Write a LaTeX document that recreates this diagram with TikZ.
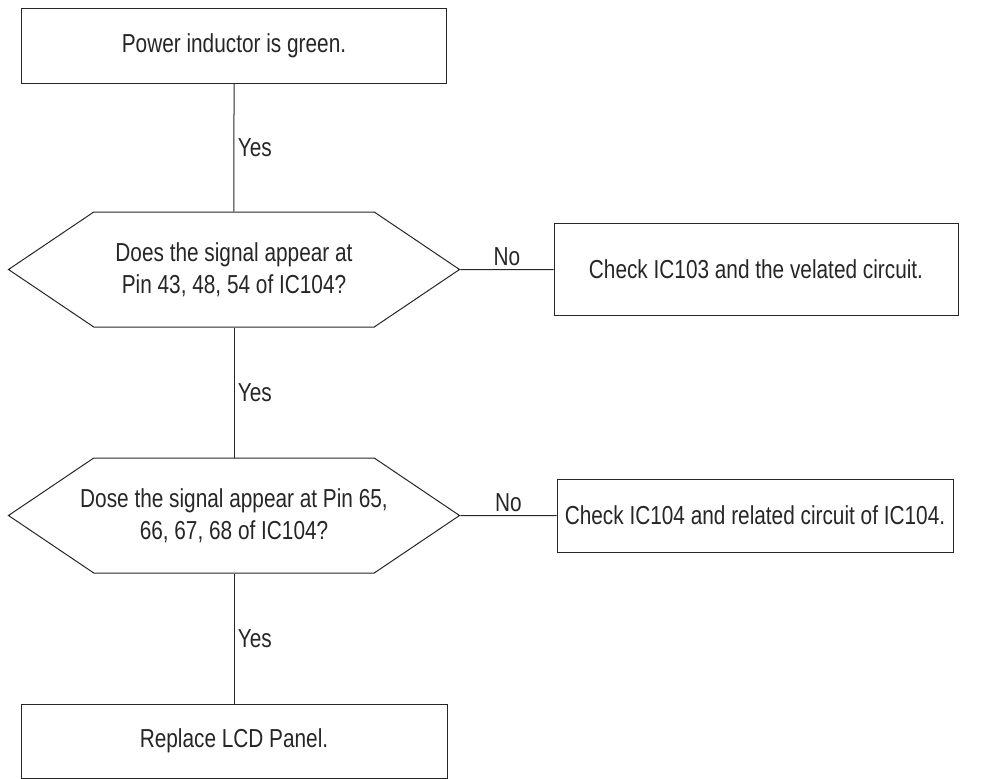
\documentclass[tikz,border=0pt]{standalone}
\usepackage{fontspec}
\setmainfont{Liberation Sans}[FakeStretch=0.8]
\usetikzlibrary{shapes.symbols}

\begin{document}
\begin{tikzpicture}[x=1pt, y=-1pt, auto, line width=1pt,
font=\fontsize{26}{32}\selectfont,
box_style/.style={rectangle, draw=black!85, text=black!85, inner sep=0pt},
hex_style/.style={signal, signal to=west and east, signal pointer angle=68,
  draw=black!85, text=black!85, inner sep=0pt, align=center,
  minimum width=451pt, minimum height=115pt},
edge_style/.style={draw=black!85, line width=1pt, text=black!85}]
\useasboundingbox (0,0) rectangle (1002,779);

\node[box_style, minimum width=425pt, minimum height=75pt] (inductor) at (234,45.5) {Power inductor is green.};
\node[hex_style] (pin43) at (234,269.5) {Does the signal appear at\\Pin 43, 48, 54 of IC104?};
\node[box_style, minimum width=404pt, minimum height=92pt] (ic103) at (756,269.5) {Check IC103 and the velated circuit.};
% text is wider than the middle part, let it run into the points
\node[hex_style] (pin65) at (234,515.5) {\makebox[0pt]{Dose the signal appear at Pin 65,}\\\makebox[0pt]{66, 67, 68 of IC104?}};
\node[box_style, minimum width=396pt, minimum height=73pt] (ic104) at (755,515.5) {Check IC104 and related circuit of IC104.};
\node[box_style, minimum width=426pt, minimum height=74pt] (lcd) at (234,741) {Replace LCD Panel.};

\draw[edge_style]  (inductor) edge node{Yes} (pin43);
\draw[edge_style]  (pin43) edge node{No} (ic103);
\draw[edge_style]  (pin43) edge node{Yes} (pin65);
\draw[edge_style]  (pin65) edge node{No} (ic104);
\draw[edge_style]  (pin65) edge node{Yes} (lcd);

\end{tikzpicture}
\end{document}
